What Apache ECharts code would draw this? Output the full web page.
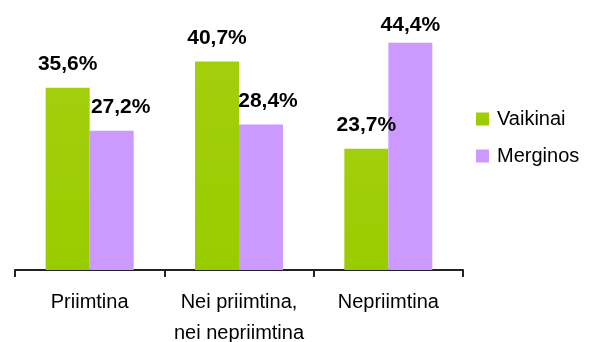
<!DOCTYPE html>
<html>
<head>
<meta charset="utf-8">
<script src="https://cdn.jsdelivr.net/npm/echarts@6/dist/echarts.min.js"></script>
<style>
  html, body { margin: 0; padding: 0; background: #fff; }
  #chart { width: 598px; height: 342px; }
</style>
</head>
<body>
<div id="chart"></div>
<script>
// duomenys
var categories = ['Priimtina', 'Nei priimtina,\nnei nepriimtina', 'Nepriimtina'];
var seriesNames = ['Vaikinai', 'Merginos'];
var vaikinai = [35.6, 40.7, 23.7];
var merginos = [27.2, 28.4, 44.4];

var FONT = '"Liberation Sans", Arial, sans-serif';

function pct(p) {
    return p.value.toFixed(1).replace('.', ',') + '%';
}

// etikečių poslinkiai kaip originale
var merginosOffsets = [[9, 0], [7, 0], [0, 6]];

var myChart = echarts.init(document.getElementById('chart'));

var option = {
    animation: false,
    grid: {
        left: 15,
        right: 135,
        top: 14,
        bottom: 72,
        containLabel: false,
        outerBoundsMode: 'none'
    },
    legend: {
        orient: 'vertical',
        left: 471,
        top: 104,
        itemWidth: 13,
        itemHeight: 13,
        itemGap: 17,
        icon: 'rect',
        textStyle: {
            fontFamily: FONT,
            fontSize: 20,
            color: '#000',
            padding: [0, 0, 0, 3]
        },
        data: seriesNames
    },
    xAxis: {
        type: 'category',
        data: categories,
        axisLine: {
            lineStyle: { color: '#222', width: 2 }
        },
        axisTick: {
            show: true,
            alignWithLabel: false,
            length: 7,
            lineStyle: { color: '#222', width: 2 }
        },
        axisLabel: {
            fontFamily: FONT,
            fontSize: 20,
            color: '#000',
            lineHeight: 31,
            margin: 17,
            interval: 0
        }
    },
    yAxis: {
        type: 'value',
        min: 0,
        max: 50,
        show: false,
        splitLine: { show: false }
    },
    series: [
        {
            name: seriesNames[0],
            type: 'bar',
            barWidth: 44,
            barGap: '0%',
            data: vaikinai,
            itemStyle: {
                color: new echarts.graphic.LinearGradient(0, 0, 0, 1, [
                    { offset: 0, color: '#a2cf0c' },
                    { offset: 1, color: '#99cc00' }
                ])
            },
            label: {
                show: true,
                position: 'top',
                distance: 13,
                formatter: pct,
                fontFamily: FONT,
                fontSize: 21,
                fontWeight: 'bold',
                color: '#000'
            }
        },
        {
            name: seriesNames[1],
            type: 'bar',
            barWidth: 44,
            barGap: '0%',
            data: merginos.map(function (v, i) {
                return { value: v, label: { offset: merginosOffsets[i] } };
            }),
            itemStyle: { color: '#cc99ff' },
            label: {
                show: true,
                position: 'top',
                distance: 13,
                formatter: pct,
                fontFamily: FONT,
                fontSize: 21,
                fontWeight: 'bold',
                color: '#000'
            }
        }
    ]
};

myChart.setOption(option);
</script>
</body>
</html>
